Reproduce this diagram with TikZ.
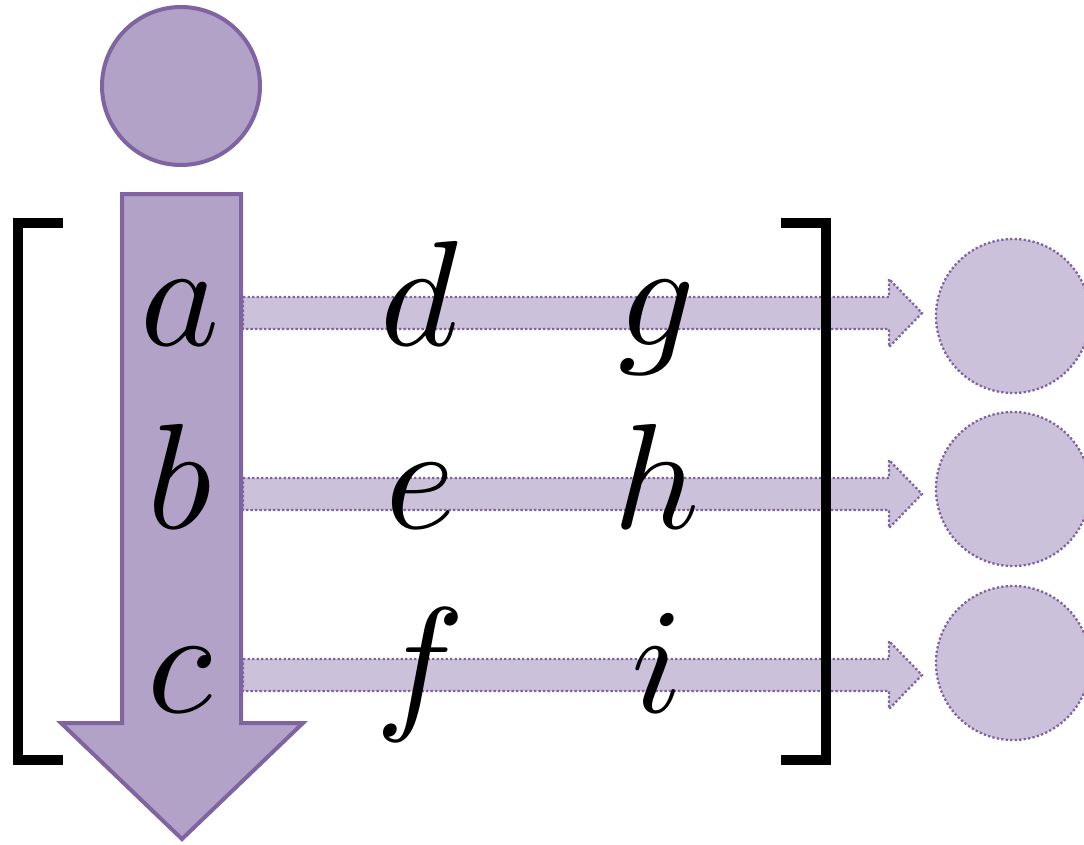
\documentclass[tikz,border=0pt]{standalone}
\usepackage{graphicx}
\definecolor{pdark}{HTML}{8064A2}
\definecolor{pmid}{HTML}{B3A2C7}
\definecolor{plight}{HTML}{CCC1DA}
\newcommand{\bigletter}[1]{\scalebox{15}{$#1$}}
\tikzset{
  bigshape/.style={fill=pmid, draw=pdark, line width=4pt, miter limit=10},
  lightshape/.style={fill=plight, draw=pdark, line width=2.3pt, dash pattern=on 2.3pt off 2.2pt},
  brack/.style={draw=black, line width=10pt, line join=miter},
  letter/.style={anchor=base, inner sep=0pt}
}
\begin{document}
\begin{tikzpicture}[x=1pt,y=-1pt]
\useasboundingbox (0,0) rectangle (1084,844);
% right-hand circles
\foreach \n/\y in {1/316,2/489,3/663}{
  \node[circle, lightshape, minimum size=154pt, inner sep=0pt] (out\n) at (1013,\y) {};
}
% horizontal arrows
\foreach \n/\y in {1/313,2/494,3/675}{
  \draw[lightshape] (243,\y-16) -- (889,\y-16) -- (889,\y-34) -- (922,\y) -- (889,\y+34) -- (889,\y+16) -- (243,\y+16) -- cycle;
}
% big down arrow
\draw[bigshape] (122,194) -- (241,194) -- (241,723) -- (303,723) -- (182,839) -- (61,723) -- (122,723) -- cycle;
% top circle
\node[circle, bigshape, minimum size=158pt, inner sep=0pt] (top) at (181,86) {};
% brackets
\draw[brack] (63,223) -- (18,223) -- (18,760) -- (63,760);
\draw[brack] (781,223) -- (826,223) -- (826,760) -- (781,760);
% letters
\node[letter] (a) at (180,345) {\bigletter{a}};
\node[letter] (d) at (420,345) {\bigletter{d}};
\node[letter] (g) at (657,345) {\bigletter{g}};
\node[letter] (b) at (180,528) {\bigletter{b}};
\node[letter] (e) at (420,528) {\bigletter{e}};
\node[letter] (h) at (657,528) {\bigletter{h}};
\node[letter] (c) at (180,712) {\bigletter{c}};
\node[letter] (f) at (420,712) {\bigletter{f}};
\node[letter] (i) at (657,712) {\bigletter{i}};
\end{tikzpicture}
\end{document}
